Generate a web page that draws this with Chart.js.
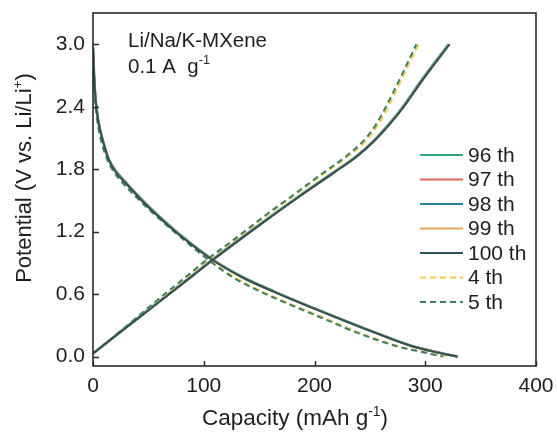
<!DOCTYPE html>
<html>
<head>
<meta charset="utf-8">
<script src="https://cdn.jsdelivr.net/npm/chart.js@4.4.1/dist/chart.umd.min.js"></script>
<style>
  html, body { margin: 0; padding: 0; background: #fff; }
  canvas { display: block; }
</style>
</head>
<body>
<canvas id="gcd" width="557" height="432"></canvas>
<script>
// galvanostatic charge/discharge profiles, capacity read at fixed potential levels
const chargeV    = [0.03, 0.27, 0.51, 0.78, 0.93, 1.15, 1.36, 1.55, 1.77, 1.92, 2.07, 2.22, 2.39, 2.67, 3.0];
const dischargeV = [2.97, 2.7, 2.45, 2.25, 2.07, 1.9, 1.78, 1.66, 1.5, 1.37, 1.18, 0.93, 0.76, 0.62, 0.49, 0.35, 0.24, 0.10, 0.04, 0.0];

const charge96  = [0, 28.2, 57.2, 89.7, 107.7, 135.2, 162.2, 187.2, 217.2, 237.2, 253.2, 266.2, 279.2, 297.7, 321.2];
const charge97  = [0, 28.5, 57.5, 90, 108, 135.5, 162.5, 187.5, 217.5, 237.5, 253.5, 266.5, 279.5, 298, 321.5];
const charge98  = [0, 28.6, 57.6, 90.1, 108.1, 135.6, 162.6, 187.6, 217.6, 237.6, 253.6, 266.6, 279.6, 298.1, 321.6];
const charge99  = [0, 28.8, 57.8, 90.3, 108.3, 135.8, 162.8, 187.8, 217.8, 237.8, 253.8, 266.8, 279.8, 298.3, 321.8];
const charge100 = [0, 29, 58, 90.5, 108.5, 136, 163, 188, 218, 238, 254, 267, 280, 298.5, 322];
const charge4   = [0, 28.5, 55.5, 86.5, 104, 132, 157.5, 182, 210, 230, 246, 257, 266, 279, 294];
const charge5   = [0, 27.7, 54.4, 85.4, 102.7, 130.5, 156, 180.5, 208.5, 228, 244, 255, 264, 277.2, 292];

const discharge96  = [0, 1, 2.5, 5, 9, 14, 20.8, 30.8, 44.8, 57.4, 77.6, 108.4, 135.8, 164.8, 193.8, 226.3, 252.8, 288.8, 311.8, 329.5];
const discharge97  = [0, 1, 2.5, 5, 9, 14, 20.5, 30.5, 44.5, 57.1, 77.3, 108.1, 135.5, 164.5, 193.5, 226, 252.5, 288.5, 311.5, 329.3];
const discharge98  = [0, 1, 2.5, 5, 9, 14, 20.4, 30.4, 44.4, 57, 77.2, 108, 135.4, 164.4, 193.4, 225.9, 252.4, 288.4, 311.4, 329.2];
const discharge99  = [0, 1, 2.5, 5, 9, 14, 20.2, 30.2, 44.2, 56.8, 77, 107.8, 135.2, 164.2, 193.2, 225.7, 252.2, 288.2, 311.2, 329.1];
const discharge100 = [0, 1, 2.5, 5, 9, 14, 20, 30, 44, 56.6, 76.8, 107.6, 135, 164, 193, 225.5, 252, 288, 311, 329];
const discharge4   = [0, 0.8, 2.1, 4.3, 7.7, 13, 19, 28.5, 43, 56, 77, 105, 128.5, 154, 182, 213.5, 238, 276, 301, 318];
const discharge5   = [0, 0.7, 2.0, 4.1, 7.4, 12.6, 18.4, 27.5, 42, 55, 75.5, 104, 126.5, 152, 180, 211.5, 236, 274, 299, 316];

const cycleLabels = ['96 th', '97 th', '98 th', '99 th', '100 th', '4 th', '5 th'];
const cycleCharge = [charge96, charge97, charge98, charge99, charge100, charge4, charge5];
const cycleDischarge = [discharge96, discharge97, discharge98, discharge99, discharge100, discharge4, discharge5];
const cycleColors = ['#2fa383', '#e8685a', '#2b7fa0', '#e3a85e', '#2d5254', '#f5cb45', '#3c7d6c'];
const cycleDashed = [false, false, false, false, false, true, true];
// stacking: darker 100th and the 5th dashed sit on top
const cycleOrder = [5, 4, 3, 2, 0, 1, 0];

const xTicks = [0, 100, 200, 300, 400];
const yTicks = [0.0, 0.6, 1.2, 1.8, 2.4, 3.0];

const FONT = '"Liberation Sans", Arial, Helvetica, sans-serif';
const INK = '#1e1e1e';

function toPoints(caps, volts){
  return caps.map((c, i) => ({x: c, y: volts[i]}));
}

const datasets = cycleLabels.map((lab, i) => ({
  label: lab,
  // charge branch, a break, then the discharge branch
  data: toPoints(cycleCharge[i], chargeV).concat([{x: null, y: null}], toPoints(cycleDischarge[i], dischargeV)),
  borderColor: cycleColors[i],
  backgroundColor: cycleColors[i],
  borderWidth: i === 0 ? 2.6 : 2,
  borderDash: cycleDashed[i] ? [6, 4] : [],
  order: cycleOrder[i],
  showLine: true,
  spanGaps: false,
  pointRadius: 0,
  cubicInterpolationMode: 'monotone',
  fill: false
}));

// draws text with a raised superscript part
function supText(ctx, parts, x, y, size, align){
  const w = parts.reduce((s, p) => {
    ctx.font = (p.sup ? size * 0.62 : size) + 'px ' + FONT;
    return s + ctx.measureText(p.t).width;
  }, 0);
  let cx = align === 'center' ? x - w / 2 : x;
  ctx.textAlign = 'left';
  ctx.textBaseline = 'alphabetic';
  parts.forEach(p => {
    ctx.font = (p.sup ? size * 0.62 : size) + 'px ' + FONT;
    ctx.fillText(p.t, cx, p.sup ? y - size * 0.42 : y);
    cx += ctx.measureText(p.t).width;
  });
}

const decor = {
  id: 'decor',
  afterDraw(chart){
    const ctx = chart.ctx;
    const a = chart.chartArea;
    const xs = chart.scales.x, ys = chart.scales.y;
    ctx.save();

    // frame
    ctx.strokeStyle = '#2a2a2a';
    ctx.lineWidth = 1.6;
    ctx.strokeRect(a.left, a.top, a.right - a.left, a.bottom - a.top);

    // inward ticks
    ctx.beginPath();
    yTicks.forEach(v => {
      const py = Math.round(ys.getPixelForValue(v)) + 0.5;
      ctx.moveTo(a.left, py); ctx.lineTo(a.left + 6, py);
    });
    xTicks.forEach(v => {
      const px = Math.round(xs.getPixelForValue(v)) + 0.5;
      ctx.moveTo(px, a.bottom); ctx.lineTo(px, a.bottom - 5);
    });
    ctx.lineWidth = 1.4;
    ctx.stroke();

    ctx.fillStyle = INK;
    // axis titles
    supText(ctx, [{t: 'Capacity (mAh g'}, {t: '-1', sup: true}, {t: ')'}], 295, 425, 22.5, 'center');
    ctx.save();
    ctx.translate(31, 178);
    ctx.rotate(-Math.PI / 2);
    supText(ctx, [{t: 'Potential (V vs. Li/Li'}, {t: '+', sup: true}, {t: ')'}], 0, 0, 22, 'center');
    ctx.restore();

    // sample note
    supText(ctx, [{t: 'Li/Na/K-MXene'}], 128, 47, 20.5, 'left');
    supText(ctx, [{t: '0.1 A  g'}, {t: '-1', sup: true}], 128, 72.5, 20.5, 'left');

    // legend
    const lx0 = 420, lx1 = 463, ly0 = 155, lstep = 24.5;
    chart.data.datasets.forEach((ds, i) => {
      const yy = ly0 + i * lstep;
      ctx.beginPath();
      ctx.setLineDash(ds.borderDash);
      ctx.strokeStyle = ds.borderColor;
      ctx.lineWidth = 2;
      ctx.moveTo(lx0, yy); ctx.lineTo(lx1, yy);
      ctx.stroke();
      ctx.setLineDash([]);
      ctx.font = '21px ' + FONT;
      ctx.fillStyle = INK;
      ctx.textAlign = 'left';
      ctx.textBaseline = 'middle';
      ctx.fillText(ds.label, lx1 + 5, yy + 1);
    });
    ctx.restore();
  }
};

function noScalePad(s){
  s.paddingTop = 0; s.paddingBottom = 0; s.paddingLeft = 0; s.paddingRight = 0;
}

new Chart(document.getElementById('gcd'), {
  type: 'scatter',
  data: { datasets },
  options: {
    responsive: false,
    animation: false,
    layout: { padding: { left: 0, right: 21, top: 13, bottom: 0 } },
    plugins: { legend: { display: false }, tooltip: { enabled: false } },
    scales: {
      x: {
        type: 'linear', min: 0, max: 400,
        afterBuildTicks: s => { s.ticks = xTicks.map(v => ({value: v})); },
        afterFit: s => { s.height = 66; noScalePad(s); },
        grid: { display: false, drawTicks: false },
        border: { display: false },
        ticks: { color: INK, padding: 8, font: { family: FONT, size: 21 }, maxRotation: 0 }
      },
      y: {
        type: 'linear', min: -0.09, max: 3.3,
        afterBuildTicks: s => { s.ticks = yTicks.map(v => ({value: v})); },
        afterFit: s => { s.width = 93; noScalePad(s); },
        grid: { display: false, drawTicks: false },
        border: { display: false },
        ticks: { color: INK, padding: 8, font: { family: FONT, size: 21 }, callback: v => v.toFixed(1) }
      }
    }
  },
  plugins: [decor]
});
</script>
</body>
</html>
